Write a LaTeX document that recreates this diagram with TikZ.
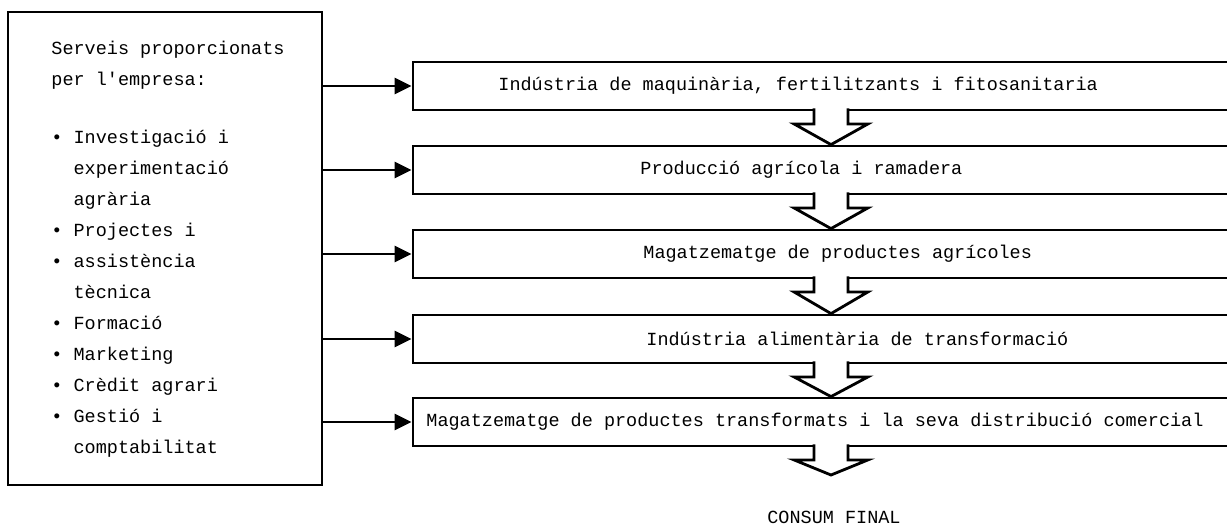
\documentclass[tikz,border=0pt]{standalone}
\usepackage{fontspec}
\setmonofont{Liberation Mono}
\usetikzlibrary{arrows.meta,calc}
\newcommand\indt{\hspace*{1.2em}}

\begin{document}
\begin{tikzpicture}[x=1pt,y=-1pt,line width=2.8pt,
  every node/.style={font=\ttfamily\fontsize{18.5}{31}\selectfont,inner sep=0pt},
  stage/.style={draw,minimum width=827pt,minimum height=48pt},
  feed/.style={-{Triangle[length=17pt,width=16pt]}},
  hollow/.style={fill=white,line join=miter}]
\path[use as bounding box,clip] (0,0) rectangle (1227,525);

% services box
\node[draw,minimum width=314pt,minimum height=473pt] (src) at (165,248.5) {};
\node[anchor=north west,align=left] (list) at (50,40) {Serveis proporcionats\\
  per l'empresa:\\[27pt]
  • Investigació i\\
  \indt experimentació\\
  \indt agrària\\
  • Projectes i\\
  • assistència\\
  \indt tècnica\\
  • Formació\\
  • Marketing\\
  • Crèdit agrari\\
  • Gestió i\\
  \indt comptabilitat};

% chain of stages
\node[stage] (s1) at (826.5,86) {};
\node[stage] (s2) at (826.5,170) {};
\node[stage] (s3) at (826.5,254) {};
\node[stage] (s4) at (826.5,339) {};
\node[stage] (s5) at (826.5,422) {};
\node[anchor=west] (t1) at (497,86) {Indústria de maquinària, fertilitzants i fitosanitaria};
\node[anchor=west] (t2) at (639,170) {Producció agrícola i ramadera};
\node[anchor=west] (t3) at (642,254) {Magatzematge de productes agrícoles};
\node[anchor=west] (t4) at (645,339) {Indústria alimentària de transformació};
\node[anchor=west] (t5) at (425,422) {Magatzematge de productes transformats i la seva distribució comercial};

\foreach \i in {1,...,5}
  \draw[feed] (src.east |- s\i) -- (s\i.west);

% hollow arrows down the chain
\coordinate (axis) at (831,0);
\coordinate (fin) at (831,475);
\foreach \a/\b in {s1/s2,s2/s3,s3/s4,s4/s5,s5/fin}
  \draw[hollow] ($(axis |- \a.south)+(-17,-3)$) -- ++(0,15.5) -- ++(-20,0)
    -- (axis |- \b.north) -- ($(axis |- \a.south)+(37,12.5)$) -- ++(-20,0) -- ++(0,-15.5);

\node (end) at (834,517) {CONSUM FINAL};
\end{tikzpicture}
\end{document}
